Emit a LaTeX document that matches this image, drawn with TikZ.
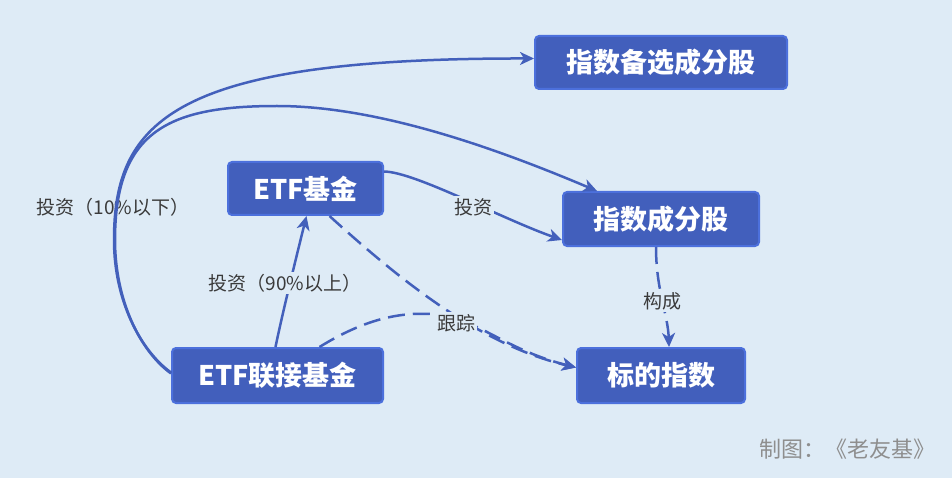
\documentclass[tikz,border=0pt]{standalone}
\usepackage{fontspec}
\setmainfont{Noto Sans CJK SC}
\usetikzlibrary{arrows.meta}
\definecolor{bg}{HTML}{DEEBF6}
\definecolor{boxfill}{HTML}{425FBC}
\definecolor{boxline}{HTML}{4C70DC}
\definecolor{edgec}{HTML}{4360BB}
\definecolor{lbl}{HTML}{3A3A3A}
\definecolor{foot}{HTML}{8E8E8E}
\begin{document}
\begin{tikzpicture}[x=1pt,y=-1pt,
 box/.style={draw=boxline, line width=2pt, fill=boxfill, rounded corners=4pt, text=white, font=\fontsize{27}{30}\selectfont\bfseries, inner sep=0pt},
 lab/.style={fill=bg, text=lbl, font=\fontsize{19}{22}\selectfont, inner sep=2pt},
 conn/.style={draw=edgec, line width=2.5pt, -{Stealth[length=14pt,width=13pt,inset=4pt]}},
 dashconn/.style={conn, dash pattern=on 17pt off 8pt}]
\fill[bg] (0,0) rectangle (952,478);
\useasboundingbox (0,0) rectangle (952,478);
\node[box, minimum width=252pt, minimum height=53pt] (bxc) at (661,62.5) {指数备选成分股};
\node[box, minimum width=155pt, minimum height=53pt] (etf) at (305.5,188.5) {ETF基金};
\node[box, minimum width=196pt, minimum height=54pt] (sbc) at (661,219) {指数成分股};
\node[box, minimum width=211pt, minimum height=55pt] (ljj) at (277.5,375.5) {ETF联接基金};
\node[box, minimum width=168pt, minimum height=55pt] (bd) at (661,375.5) {标的指数};
\node[text=lbl, font=\fontsize{19}{22}\selectfont, inner sep=2pt] (l1) at (113,207) {投资（10\%以下）};
\draw[conn] ([yshift=3pt]ljj.west) .. controls (140,350) and (114,300) .. (114,240) .. controls (114,120) and (175,58) .. ([yshift=4pt]bxc.west);
\draw[conn] ([yshift=2pt]ljj.west) .. controls (140,351) and (115,300) .. (115,240) .. controls (115,130) and (170,106) .. (277,106) .. controls (380,106) and (500,150) .. ([xshift=35pt]sbc.north west);
\draw[conn] ([xshift=-2pt]ljj.north) .. controls (282,315) and (298,250) .. ([xshift=1pt]etf.south);
\draw[conn] ([yshift=17pt]etf.east) .. controls (415,172) and (500,218) .. ([yshift=-21pt]sbc.west);
\draw[dashconn] ([xshift=24pt]etf.south) .. controls (400,280) and (480,345) .. ([yshift=8pt]bd.west);
\draw[dashconn] ([xshift=42pt]ljj.north) .. controls (360,322) and (395,312) .. (430,314) .. controls (480,318) and (500,348) .. ([yshift=8pt]bd.west);
\draw[dashconn] ([xshift=-5pt]sbc.south) .. controls (656,290) and (668,315) .. ([xshift=8pt]bd.north);
\node[lab] (l2) at (285,283) {投资（90\%以上）};
\node[lab] (l3) at (473,207) {投资};
\node[lab] (l4) at (456,323) {跟踪};
\node[lab] (l5) at (662,301) {构成};
\node[text=foot, font=\fontsize{22}{24}\selectfont, anchor=east, inner sep=0pt] (ft) at (936,449) {制图：《老友基》};
\end{tikzpicture}
\end{document}
